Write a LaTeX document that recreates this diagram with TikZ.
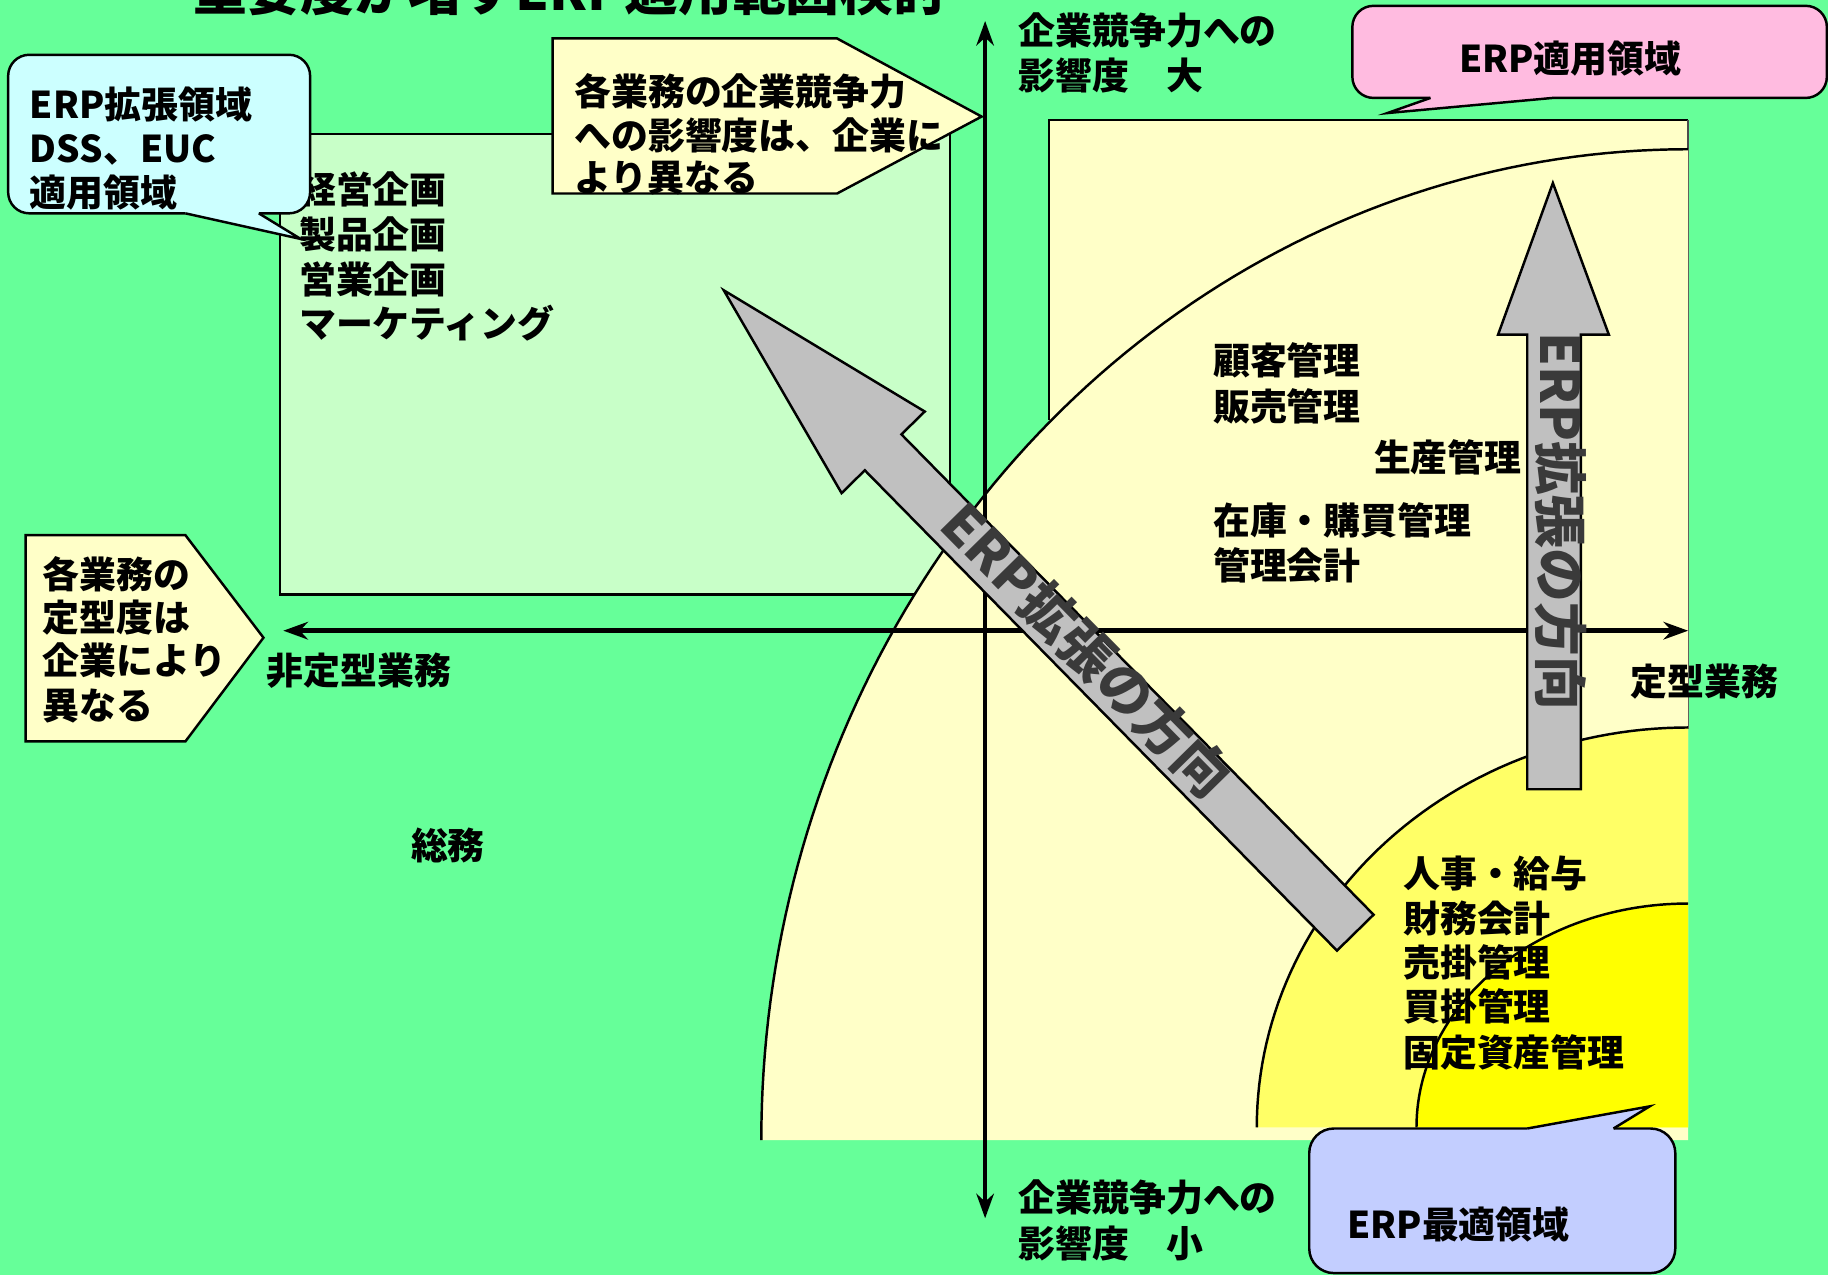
\documentclass[tikz,border=0pt]{standalone}
\usepackage{fontspec}
\setmainfont{Noto Sans CJK JP}
\usetikzlibrary{arrows.meta}
\definecolor{bg}{HTML}{66FF99}
\definecolor{boxgreen}{HTML}{C8FFC8}
\definecolor{lyellow}{HTML}{FFFFC8}
\definecolor{myellow}{HTML}{FFFF66}
\definecolor{syellow}{HTML}{FFFF00}
\definecolor{arrowgray}{HTML}{C0C0C0}
\definecolor{cyanc}{HTML}{CCFFFF}
\definecolor{pinkc}{HTML}{FFBBE0}
\definecolor{bluec}{HTML}{C3CEFF}
\definecolor{arrowtext}{HTML}{3A3A3A}
\begin{document}
\begin{tikzpicture}[x=0.011658cm, y=-0.011658cm,
  outline/.style={draw=black, line width=0.7pt, line join=miter},
  lbl/.style={anchor=west, inner sep=0pt, font=\fontsize{10.5}{12}\selectfont\bfseries, text height=0.88em, text depth=0.12em},
  clbl/.style={lbl, anchor=center},
  arrtext/.style={inner sep=0pt, text=arrowtext, font=\fontsize{15.3}{16}\selectfont\bfseries, text height=0.88em, text depth=0.12em},
  axisline/.style={draw=black, {Stealth[length=7pt,width=5pt]}-{Stealth[length=7pt,width=5pt]}}]
\useasboundingbox (0,0) rectangle (1568,1094);
\fill[bg] (0,0) rectangle (1568,1094);

% light green area
\filldraw[outline, fill=boxgreen] (240,115) rectangle (815,510);

% ERP area rectangle
\fill[lyellow] (900,103) rectangle (1448,978);
\draw[outline] (900,360) -- (900,103) -- (1448,103);
\draw[draw=black!70, line width=0.4pt] (1448,103) -- (1448,625);

% quarter ellipses
\fill[lyellow] (1448,978) -- plot[domain=90:180,samples=90] ({1448+795*cos(\x)},{978-850*sin(\x)}) -- cycle;
\draw[outline] plot[domain=90:180,samples=90] ({1448+795*cos(\x)},{978-850*sin(\x)});
\fill[myellow] (1448,967) -- plot[domain=90:180,samples=60] ({1448+370*cos(\x)},{967-343*sin(\x)}) -- cycle;
\draw[outline] plot[domain=90:180,samples=60] ({1448+370*cos(\x)},{967-343*sin(\x)});
\fill[syellow] (1448,967) -- plot[domain=90:180,samples=60] ({1448+233*cos(\x)},{967-192*sin(\x)}) -- cycle;
\draw[outline] plot[domain=90:180,samples=60] ({1448+233*cos(\x)},{967-192*sin(\x)});

% axes
\coordinate (vtop) at (845,18);
\coordinate (vbot) at (845,1045);
\coordinate (hleft) at (243,541);
\coordinate (hright) at (1448,541);
\draw[axisline, line width=1pt] (vbot) -- (vtop);
\draw[axisline, line width=1.3pt] (hleft) -- (hright);

% title (cut off at top)
\node[anchor=base west, inner sep=0pt, font=\fontsize{15.3}{16}\selectfont\bfseries] (title) at (165,9) {重要度が増すERP適用範囲検討};

% axis labels
\node[lbl] (ax1) at (873,27) {企業競争力への};
\node[lbl] (ax2) at (873,65) {影響度　大};
\node[lbl] (ax3) at (873,1028) {企業競争力への};
\node[lbl] (ax4) at (873,1067) {影響度　小};
\node[lbl] (hitei) at (228,576) {非定型業務};
\node[lbl] (tei) at (1398,585) {定型業務};
\node[lbl] (somu) at (352,726) {総務};

% business labels
\node[lbl] (k1) at (256,163) {経営企画};
\node[lbl] (k2) at (256,202) {製品企画};
\node[lbl] (k3) at (256,240) {営業企画};
\node[lbl] (k4) at (256,278) {マーケティング};
\node[lbl] (c1) at (1040,310) {顧客管理};
\node[lbl] (c2) at (1040,349) {販売管理};
\node[lbl] (seisan) at (1178,393) {生産管理};
\node[lbl] (z1) at (1040,447) {在庫・購買管理};
\node[lbl] (z2) at (1040,486) {管理会計};
\node[lbl] (j1) at (1203,750) {人事・給与};
\node[lbl] (j2) at (1203,788) {財務会計};
\node[lbl] (j3) at (1203,826) {売掛管理};
\node[lbl] (j4) at (1203,864) {買掛管理};
\node[lbl] (j5) at (1203,903) {固定資産管理};

% pentagon callout (top)
\filldraw[outline, fill=lyellow] (474,33) -- (718,33) -- (842,100) -- (718,166) -- (474,166) -- cycle;
\node[lbl] (p1) at (492,79) {各業務の企業競争力};
\node[lbl] (p2) at (492,117) {への影響度は、企業に};
\node[lbl] (p3) at (492,153) {より異なる};

% pentagon callout (left)
\filldraw[outline, fill=lyellow] (22,459) -- (159,459) -- (226,547) -- (159,636) -- (22,636) -- cycle;
\node[lbl] (q1) at (36,493) {各業務の};
\node[lbl] (q2) at (36,530) {定型度は};
\node[lbl] (q3) at (36,567) {企業により};
\node[lbl] (q4) at (36,606) {異なる};

% cyan callout
\fill[cyanc, rounded corners=6pt] (7,47) rectangle (266,183);
\fill[cyanc] (127.5,176) -- (258,205) -- (210.5,176) -- cycle;
\draw[outline, rounded corners=6pt] (159,183) -- (7,183) -- (7,47) -- (266,47) -- (266,183) -- (222,183);
\draw[outline] (159,183) -- (258,205) -- (222,183);
\node[lbl] (e1) at (25,90) {ERP拡張領域};
\node[lbl] (e2) at (25,128) {DSS、EUC};
\node[lbl] (e3) at (25,166) {適用領域};

% pink callout
\fill[pinkc, rounded corners=6pt] (1160,5) rectangle (1567,84);
\fill[pinkc] (1244,78) -- (1190,97) -- (1397,78) -- cycle;
\draw[outline, rounded corners=6pt] (1332,84) -- (1567,84) -- (1567,5) -- (1160,5) -- (1160,84) -- (1227,84);
\draw[outline] (1227,84) -- (1190,97) -- (1332,84);
\node[clbl] (erpapp) at (1347,51) {ERP適用領域};

% blue callout
\fill[bluec, rounded corners=7pt] (1123,968) rectangle (1437,1092);
\fill[bluec] (1271,975) -- (1415,949) -- (1373,975) -- cycle;
\draw[outline, rounded corners=7pt] (1310,968) -- (1123,968) -- (1123,1092) -- (1437,1092) -- (1437,968) -- (1384,968);
\draw[outline] (1310,968) -- (1415,949) -- (1384,968);
\node[clbl] (erpopt) at (1251,1051) {ERP最適領域};

% diagonal block arrow
\filldraw[outline, fill=arrowgray] (620.8,249) -- (793.2,353) -- (773.2,372.6) -- (1178.2,784.6) -- (1146.8,815.4) -- (741.8,403.4) -- (721.9,423) -- cycle;
\node[arrtext, rotate=-45.5, font=\fontsize{15.6}{16}\selectfont\bfseries] (diagtext) at (928,562) {ERP拡張の方向};

% vertical block arrow
\filldraw[outline, fill=arrowgray] (1332,157) -- (1380,287) -- (1356,287) -- (1356,677) -- (1310,677) -- (1310,287) -- (1285,287) -- cycle;
\node[arrtext, rotate=-90] (verttext) at (1333,447) {ERP拡張の方向};
\end{tikzpicture}
\end{document}
